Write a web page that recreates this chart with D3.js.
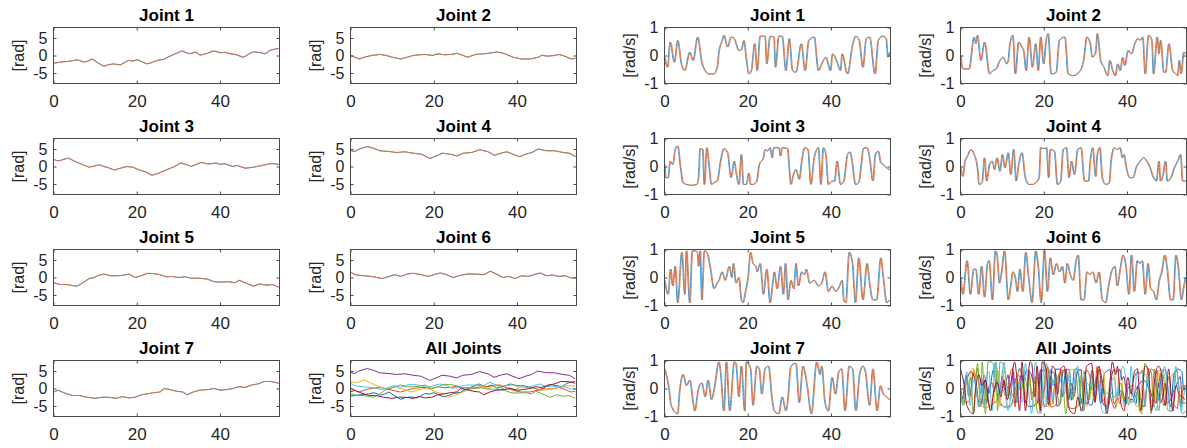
<!DOCTYPE html>
<html>
<head>
<meta charset="utf-8">
<script src="https://cdn.jsdelivr.net/npm/d3@7"></script>
<style>
  body { margin: 0; background: #fff; }
  svg { display: block; font-family: "Liberation Sans", Arial, sans-serif; }
</style>
</head>
<body>
<svg width="1187" height="448"></svg>
<script>
// ---- data: [time s, value] ----
const jointNames = ["Joint 1", "Joint 2", "Joint 3", "Joint 4", "Joint 5", "Joint 6", "Joint 7"];
const allTitle = "All Joints";
const xTicks = [0, 20, 40];
const posTicks = [-5, 0, 5];
const velTicks = [-1, 0, 1];
const trackLag = 0.18; // orange (measured) trace trails the blue one slightly

const pos1 = [[0,-2.2],[1.5,-1.9],[3.2,-1.7],[4.5,-1.5],[5.6,-1.2],[7.2,-1.9],[8.2,-1.6],[9.2,-1.0],[10.5,-2.0],[12,-3.1],[13.2,-2.6],[14.4,-2.4],[16,-2.7],[17,-2.0],[18,-1.4],[19,-1.6],[20,-1.2],[21.2,-1.8],[22.4,-2.4],[23.6,-2.0],[24.8,-1.4],[26.4,-1.1],[27.5,-0.4],[28.8,0.3],[30,0.9],[30.8,1.3],[31.8,0.8],[32.8,0.5],[34,1.0],[35.2,0.1],[36.8,0.6],[38.4,1.3],[40,0.8],[41.2,0.9],[42.4,0.5],[43.6,0.3],[44.8,-0.2],[45.6,-0.5],[46.8,0.4],[48,1.1],[49.6,0.8],[50.8,0.5],[52,1.5],[53,1.8],[54,2.0]];
const pos2 = [[0,0],[1,-0.5],[2,-1.0],[3.5,-0.4],[5,0],[7,0.3],[8.5,0],[10,-0.5],[12,-1.0],[13.5,-0.5],[15,0],[16.5,0.2],[18,0.3],[19.5,0],[21,0.5],[22.5,0.2],[24,0.3],[25.5,0.6],[27,0],[28,-0.5],[30,0.3],[32,0.5],[33.5,0.7],[35,1.0],[36,0.8],[37,0.5],[39,-0.5],[41,-1.0],[43,-1.0],[45,-0.5],[46,0.1],[47,-0.2],[49,0],[50,0.3],[51,0],[52,-0.5],[53,-1.0],[54,-0.8]];
const pos3 = [[0,2.0],[1,1.6],[2,1.9],[3.5,2.4],[5,1.5],[6,1.0],[7,0.5],[8.5,-0.2],[10,0.2],[11,0.5],[12,0],[13,-0.3],[14.5,-1.0],[16,-0.5],[17.5,0],[19,-0.2],[20.5,-1.0],[22,-1.5],[23.5,-2.5],[25,-2.0],[27,-1.0],[29,0],[30.5,1.0],[32,0.5],[33,0],[34,0.5],[35.5,1.2],[37,0.7],[39,1.0],[40,0.6],[41,0.8],[43,0],[44,0.3],[46,-0.5],[48,-0.2],[50,0.3],[52,0.8],[53,0.8],[54,0.6]];
const pos4 = [[0,4.5],[1,4.3],[2,5.0],[4,5.7],[5.5,5.2],[7,4.5],[9,4.3],[11,4.0],[13,4.2],[15,3.8],[17,3.5],[19,2.3],[20.5,3.0],[22,3.8],[24,3.5],[25.5,3.0],[27,3.8],[29,4.0],[31,4.8],[33,4.2],[34.5,3.2],[36,3.8],[37.5,4.2],[39,3.5],[40.5,2.8],[42,3.5],[43.5,4.0],[45,5.0],[47,4.5],[49,4.5],[51,4.0],[52.5,3.8],[54,2.8]];
const pos5 = [[0,-1.5],[1.5,-2.0],[3,-2.0],[4.5,-2.3],[5.5,-2.5],[7,-1.5],[8.5,-0.3],[9.5,-0.1],[10.5,0.5],[12,1.0],[13.5,0.5],[15,0.5],[16.5,0.6],[18,1.0],[19.5,0],[21,0.5],[22.5,1.2],[24,1.1],[25.5,0.8],[27,0.2],[28.5,0.3],[30,0],[31.5,0.2],[33,-0.2],[35,-0.2],[37,-0.5],[38.5,-1.2],[40,-1.3],[42,-1.2],[43.5,-1.5],[44.5,-0.8],[46,-1.5],[48,-2.5],[49.5,-1.8],[51,-2.2],[52.5,-2.0],[54,-2.8]];
const pos6 = [[0,1.5],[1,0.8],[3,0.5],[5,0.3],[7.5,-0.3],[9,0.2],[10.5,0.8],[12,0.3],[13.5,1.0],[15,1.2],[17,0.8],[18.5,0.3],[20,0.8],[21.5,1.3],[23,0.8],[24.5,0],[26,0.5],[28,1.0],[30,1.0],[32,0.8],[33.5,1.8],[35,1.0],[36.5,0],[38,0.3],[39.5,-0.3],[41,0.5],[42.5,0.3],[44,0.8],[45.5,1.3],[47,0.5],[48.5,0.7],[50,0.3],[51.5,0.5],[53,-0.2],[54,0]];
const pos7 = [[0,-1.0],[1,-0.5],[3,-1.5],[4.5,-2.0],[6,-2.0],[8,-2.5],[10,-2.8],[11.5,-2.5],[13,-2.5],[15,-2.8],[16.5,-2.3],[18,-2.7],[19.5,-2.5],[21,-1.8],[22.5,-1.5],[24,-1.2],[25.5,-1.0],[26.5,0],[28,-0.3],[29.5,-0.8],[31,-1.0],[32,-1.8],[33.5,-1.0],[35,-0.5],[37,-0.3],[38.5,0],[40,-0.5],[41.5,-0.3],[43,0],[44.5,0.5],[46,0.3],[47.5,1.0],[49,1.3],[50.5,2.0],[52,2.0],[53,1.8],[54,1.5]];

const vel1 = [[0,-0.06],[0.66,-0.42],[1.3,0.48],[2.3,-0.24],[3.1,0.54],[4.0,-0.3],[4.8,-0.54],[6.0,0.12],[6.8,-0.18],[7.9,0.66],[8.9,-0.24],[9.7,-0.54],[10.5,-0.66],[11.8,-0.66],[12.6,-0.42],[13.0,0.12],[13.8,0.54],[14.2,0.72],[15.1,0.3],[15.9,0.66],[16.7,0.6],[17.8,0.18],[18.4,0.2],[19.0,0.54],[19.6,-0.12],[20.2,-0.66],[20.8,-0.54],[21.6,0.42],[22.2,-0.54],[22.9,0.69],[24.1,0.69],[24.5,-0.3],[25.3,0.69],[26.2,0.66],[26.6,-0.42],[27.4,0.69],[28.2,0.69],[29.1,-0.54],[29.9,0.6],[30.7,-0.54],[31.5,-0.6],[32.8,0.42],[33.7,-0.54],[34.6,0.54],[35.9,0.66],[36.9,-0.54],[37.7,-0.3],[38.7,-0.06],[39.8,-0.54],[40.3,0.06],[41.4,-0.24],[42.2,-0.54],[42.6,0.06],[43.9,-0.66],[45.1,0.36],[45.9,0.69],[46.7,0.54],[47.6,-0.42],[48.4,0.6],[49.2,0.66],[50.5,-0.66],[51.3,0.54],[52.3,0.69],[53.2,0.6],[53.6,-0.06],[54,0.12]];
const vel2 = [[0,0],[0.5,-0.48],[2.0,-0.48],[3.2,0.66],[3.6,0.42],[4.0,0.72],[4.8,-0.18],[5.7,0.48],[6.9,-0.66],[7.7,-0.54],[8.5,-0.48],[9.4,-0.18],[10.2,-0.06],[11.0,-0.3],[11.4,-0.18],[11.8,0.42],[12.5,0.72],[13.1,-0.66],[13.9,0.48],[14.7,0.3],[15.1,0.18],[15.7,-0.54],[16.4,0.66],[17.2,-0.42],[18.0,0.42],[18.6,-0.54],[19.2,0.66],[19.9,-0.3],[20.5,0.54],[21.0,0.78],[21.7,-0.66],[22.9,-0.6],[23.7,0.54],[25.0,0.66],[25.8,-0.66],[27.0,-0.72],[28.7,-0.54],[29.5,-0.18],[30.3,0.66],[31.1,0.42],[31.6,-0.06],[32.4,0.12],[32.8,0.78],[33.6,-0.18],[34.4,-0.42],[35.3,-0.72],[35.8,-0.18],[36.5,-0.54],[37.1,-0.72],[37.7,-0.3],[38.3,-0.54],[38.9,-0.06],[39.4,-0.36],[40.2,0.18],[41.0,0.06],[41.8,0.42],[42.6,0.6],[43.1,0.54],[43.7,0.66],[44.3,-0.66],[45.1,0.72],[45.9,0.54],[46.3,-0.66],[47.2,0.66],[47.6,0.06],[48.0,0.54],[48.8,-0.6],[49.2,-0.6],[50.0,0.42],[50.9,-0.54],[51.7,-0.66],[52.1,-0.72],[52.5,-0.18],[52.9,-0.66],[53.6,0.12],[54,0.06]];
const vel3 = [[0,0.07],[0.25,-0.4],[0.8,-0.4],[1.3,0.19],[1.9,0.07],[2.5,0.61],[3.1,0.73],[3.8,-0.05],[4.4,-0.58],[5.2,-0.64],[6.4,-0.67],[7.7,-0.64],[8.1,-0.4],[8.5,0.64],[9.1,0.61],[9.5,-0.64],[10.1,0.67],[10.7,-0.05],[11.2,-0.64],[11.8,-0.58],[12.6,-0.52],[13.4,0.19],[14.2,0.64],[15.1,0.49],[15.9,-0.4],[16.7,0.19],[17.1,-0.17],[17.8,-0.64],[18.4,0.43],[18.9,-0.64],[19.6,-0.64],[20.2,-0.23],[20.6,-0.64],[21.2,-0.64],[22.1,-0.52],[22.7,0.07],[23.7,0.31],[24.1,0.61],[24.7,0.55],[25.3,0.67],[25.8,0.31],[26.2,0.67],[27.4,0.67],[27.8,0.37],[28.2,0.67],[29.5,0.64],[29.9,-0.05],[30.3,-0.64],[30.9,-0.29],[31.5,-0.11],[32.3,-0.46],[32.9,0.19],[33.6,0.67],[34.4,0.61],[35.1,-0.64],[35.9,0.31],[36.9,0.67],[37.5,-0.64],[38.1,0.67],[38.7,0.43],[39.3,-0.64],[40.2,-0.52],[40.8,-0.52],[41.4,0.19],[42.2,-0.64],[43.0,-0.52],[43.9,0.43],[44.5,0.52],[45.1,0.07],[45.8,-0.64],[46.6,-0.58],[47.2,0.07],[47.7,0.64],[48.6,0.67],[49.2,0.31],[50.0,-0.52],[50.6,0.43],[51.3,0.55],[51.9,0.13],[52.5,0.07],[53.3,-0.05],[54,-0.11]];
const vel4 = [[0,-0.05],[0.5,-0.35],[1.0,0.19],[1.6,0.37],[2.4,0.6],[3.2,0.43],[4.0,-0.05],[4.4,-0.64],[5.1,-0.58],[5.7,0.31],[6.2,-0.52],[6.9,0.07],[7.6,0.19],[8.1,-0.11],[8.7,0.31],[9.4,-0.17],[10.0,0.43],[10.6,-0.05],[11.4,0.49],[12.0,-0.29],[12.7,0.61],[13.3,-0.52],[13.9,0.07],[14.7,0.49],[15.5,-0.4],[16.4,-0.64],[17.2,-0.64],[18.0,-0.58],[18.8,-0.4],[19.2,0.67],[20.0,0.64],[20.6,0.67],[21.1,-0.4],[21.5,0.61],[22.5,0.55],[23.2,-0.64],[24.0,-0.52],[24.6,0.61],[25.4,0.67],[26.0,-0.4],[26.6,0.19],[27.3,-0.29],[28.1,0.61],[28.9,0.67],[29.7,-0.52],[30.7,-0.52],[31.1,0.19],[31.7,0.67],[32.4,-0.35],[32.8,0.43],[33.4,0.67],[34.0,-0.4],[34.8,-0.64],[35.7,-0.58],[36.1,0.19],[36.9,0.67],[37.5,0.61],[38.3,0.67],[38.8,0.31],[39.2,0.43],[39.8,-0.05],[40.6,-0.4],[41.4,-0.4],[42.1,-0.05],[43.1,0.19],[43.9,0.31],[44.7,0.19],[45.5,-0.05],[46.3,-0.4],[47.0,-0.52],[47.6,0.19],[48.0,-0.52],[48.6,-0.29],[49.2,0.19],[49.6,-0.52],[50.5,-0.4],[51.3,-0.05],[52.1,0.19],[52.8,0.43],[53.3,-0.52],[54,-0.52]];
const vel5 = [[0,-0.1],[0.8,-0.6],[1.4,0.3],[1.9,-0.3],[2.5,0.4],[3.1,-0.9],[4.1,0.9],[4.8,-0.6],[5.2,0.95],[6.0,-0.9],[6.6,0.95],[7.4,0.95],[7.9,0.85],[8.1,0.4],[8.5,0.95],[8.9,-0.8],[9.5,0.95],[10.1,0.9],[11.0,0.3],[11.8,-0.4],[12.6,-0.2],[13.0,-0.1],[13.8,0.2],[14.5,-0.1],[15.5,0.4],[16.1,0],[16.5,0.5],[17.1,-0.2],[17.8,0],[18.4,-0.8],[18.8,-0.9],[19.4,-0.5],[20.0,0],[20.6,0.9],[21.2,0.5],[21.9,0.4],[22.2,0.2],[22.9,0.5],[23.7,-0.6],[24.5,0.3],[25.3,-0.9],[26.0,-0.1],[26.3,0.2],[27.0,-0.4],[27.8,0.4],[28.5,-0.6],[29.0,0.5],[29.6,-0.8],[30.3,-0.1],[31.0,-0.4],[31.5,0.5],[32.1,-0.3],[32.9,0.2],[33.6,0.1],[34.0,0.3],[34.8,-0.2],[35.9,-0.1],[36.9,-0.3],[37.7,-0.2],[38.5,0.2],[39.3,-0.5],[40.2,-0.3],[41.0,-0.5],[42.0,-0.3],[42.6,-0.1],[43.0,-0.8],[43.5,-0.9],[44.3,0.9],[45.1,0.5],[45.5,-0.4],[45.8,-0.9],[46.6,0.7],[47.6,-0.8],[48.6,0.5],[49.2,-0.2],[50.0,-0.8],[50.9,-0.8],[51.9,0.7],[52.5,0],[53.3,-0.9],[54,-0.8]];
const vel6 = [[0,0],[0.5,-0.6],[1.5,0.6],[2.3,-0.6],[3.1,0.3],[3.6,0.3],[4.3,-0.6],[5.0,0.4],[5.7,-0.7],[6.4,0.5],[6.8,0.6],[7.6,-0.8],[8.3,0.95],[8.7,0.8],[9.3,-0.2],[9.8,0.2],[10.5,0.95],[11.4,-0.8],[12.0,-0.3],[12.5,0.2],[13.1,0],[13.6,-0.5],[14.2,0.3],[14.9,-0.5],[15.6,0.9],[16.3,0],[17.1,-0.9],[18.0,0.95],[18.6,0.4],[19.3,-0.9],[20.1,0.95],[20.8,-0.5],[21.5,0.7],[22.2,0.1],[23.0,0.5],[23.7,0.2],[24.4,0.4],[25.0,-0.2],[25.6,0.5],[26.3,0.1],[27.0,-0.1],[27.7,0.6],[28.2,0.8],[28.9,-0.8],[29.6,-0.8],[30.3,0.2],[31.0,0.1],[31.7,0.2],[32.5,-0.2],[33.2,0.2],[34.0,-0.8],[34.8,-0.9],[35.5,-0.3],[36.2,0.2],[37.0,0.4],[37.6,-0.3],[38.3,0.3],[39.0,0.8],[39.6,0.5],[40.4,-0.6],[41.0,0.8],[41.7,-0.5],[42.4,0.6],[43.0,0.5],[43.6,0.6],[44.3,-0.6],[45.0,0.5],[45.6,-0.4],[46.3,-0.5],[47.0,-0.8],[47.7,-0.1],[48.3,0.2],[49.0,0.8],[49.6,0.3],[50.4,-0.8],[51.0,-0.8],[51.7,0.8],[52.3,0.3],[53.0,-0.8],[53.6,-0.3],[54,0]];
const vel7 = [[0,0.7],[1.0,0],[1.5,-0.6],[3.1,-0.9],[3.5,-0.2],[4.4,0.5],[5.2,0.1],[6.0,0.3],[6.8,-0.5],[7.2,-0.8],[8.1,0],[8.9,0.2],[9.7,-0.3],[10.4,0.3],[11.2,-0.4],[12.0,0.1],[13.0,0.95],[13.4,0.6],[14.2,-0.8],[14.8,0.95],[15.6,-0.8],[16.7,0.95],[17.1,0.9],[17.8,-0.3],[18.4,0.8],[19.2,-0.8],[19.6,0.95],[20.6,0.7],[21.2,-0.6],[22.1,0.8],[22.7,0.7],[23.3,-0.2],[24.1,0.7],[24.9,0.8],[25.8,-0.4],[26.3,-0.8],[27.4,-0.9],[28.2,-0.3],[29.1,-0.8],[29.5,-0.5],[30.3,0.8],[31.5,0.9],[32.3,-0.5],[33.2,0.8],[34.2,0.1],[35.2,-0.9],[36.5,0.95],[37.3,0.5],[37.7,0.8],[38.5,-0.5],[39.3,-0.8],[40.2,0.4],[41.0,-0.2],[41.8,0.6],[42.5,0.7],[43.3,-0.8],[44.3,0.8],[45.1,0.7],[45.9,-0.8],[46.8,0.5],[47.6,0.8],[48.2,0.6],[49.2,-0.6],[50.0,0.7],[51.0,-0.8],[51.8,0.1],[52.5,-0.2],[53.3,-0.3],[54,-0.4]];

const positions = [pos1, pos2, pos3, pos4, pos5, pos6, pos7];
const velocities = [vel1, vel2, vel3, vel4, vel5, vel6, vel7];

// MATLAB default line order
const jointColors = ["#0072BD", "#D95319", "#EDB120", "#7E2F8E", "#77AC30", "#4DBEEE", "#A2142F"];
const refColor = "#3a9ad6";
const actColor = "#e46b33";

// ---- layout ----
const svg = d3.select("svg");
const colX = [53.5, 350.5, 664.5, 960.5];
const rowY = [27.5, 138.5, 249.5, 360.5];
const pw = 226, ph = 56;
const axisColor = "#4a4a4a";
const textColor = "#262626";

const x = d3.scaleLinear().domain([0, 54.3]).range([0, pw]);
const yPos = d3.scaleLinear().domain([-8, 8]).range([ph, 0]);
const yVel = d3.scaleLinear().domain([-1, 1]).range([ph, 0]);

const plainNum = d => String(d); // MATLAB style: "1", "-5" with a hyphen minus

let clipId = 0;

function panel(col, row, title, y, yTicks, yLabel, series, curve) {
    const g = svg.append("g").attr("transform", `translate(${colX[col]},${rowY[row]})`);
    const id = "clip" + (clipId++);

    g.append("clipPath").attr("id", id)
        .append("rect").attr("width", pw).attr("height", ph);

    const line = d3.line().curve(curve);

    const lines = g.append("g").attr("clip-path", `url(#${id})`);
    series.forEach(s => {
        lines.append("path")
            .attr("d", line.x(d => x(d[0] + s.shift)).y(d => y(d[1]))(s.data))
            .attr("fill", "none")
            .attr("stroke", s.color)
            .attr("stroke-width", s.width)
            .attr("stroke-linejoin", "round");
    });

    // axes, ticks pointing inward on all four sides
    const bottom = g.append("g").attr("transform", `translate(0,${ph})`)
        .call(d3.axisBottom(x).tickValues(xTicks).tickFormat(plainNum).tickSize(-3).tickPadding(11));
    const top = g.append("g")
        .call(d3.axisTop(x).tickValues(xTicks).tickSize(-3).tickFormat(""));
    const left = g.append("g")
        .call(d3.axisLeft(y).tickValues(yTicks).tickFormat(plainNum).tickSize(-3).tickPadding(6));
    const right = g.append("g").attr("transform", `translate(${pw},0)`)
        .call(d3.axisRight(y).tickValues(yTicks).tickSize(-3).tickFormat(""));

    [bottom, top, left, right].forEach(a => {
        a.select(".domain").remove();
        a.attr("font-family", null).style("color", axisColor);
        a.selectAll("text").attr("fill", textColor);
    });
    bottom.attr("font-size", 17);
    left.attr("font-size", 16);

    g.append("rect")
        .attr("width", pw).attr("height", ph)
        .attr("fill", "none").attr("stroke", axisColor).attr("stroke-width", 1);

    g.append("text")
        .attr("x", pw / 2).attr("y", -7)
        .attr("text-anchor", "middle")
        .attr("font-size", 17).attr("font-weight", "bold")
        .attr("fill", "#000")
        .text(title);

    g.append("text")
        .attr("transform", `translate(-35,${ph / 2}) rotate(-90)`)
        .attr("text-anchor", "middle")
        .attr("dominant-baseline", "central")
        .attr("font-size", 16)
        .attr("fill", textColor)
        .text(yLabel);
}

function pairSeries(data) {
    return [
        {data: data, shift: 0, color: refColor, width: 1},
        {data: data, shift: trackLag, color: actColor, width: 0.9}
    ];
}

jointNames.forEach((name, i) => {
    const row = Math.floor(i / 2), c = i % 2;
    panel(c, row, name, yPos, posTicks, "[rad]", pairSeries(positions[i]), d3.curveLinear);
    panel(c + 2, row, name, yVel, velTicks, "[rad/s]", pairSeries(velocities[i]), d3.curveMonotoneX);
});

panel(1, 3, allTitle, yPos, posTicks, "[rad]",
    positions.map((p, i) => ({data: p, shift: 0, color: jointColors[i], width: 1})), d3.curveLinear);
panel(3, 3, allTitle, yVel, velTicks, "[rad/s]",
    velocities.map((v, i) => ({data: v, shift: 0, color: jointColors[i], width: 1})), d3.curveMonotoneX);
</script>
</body>
</html>
